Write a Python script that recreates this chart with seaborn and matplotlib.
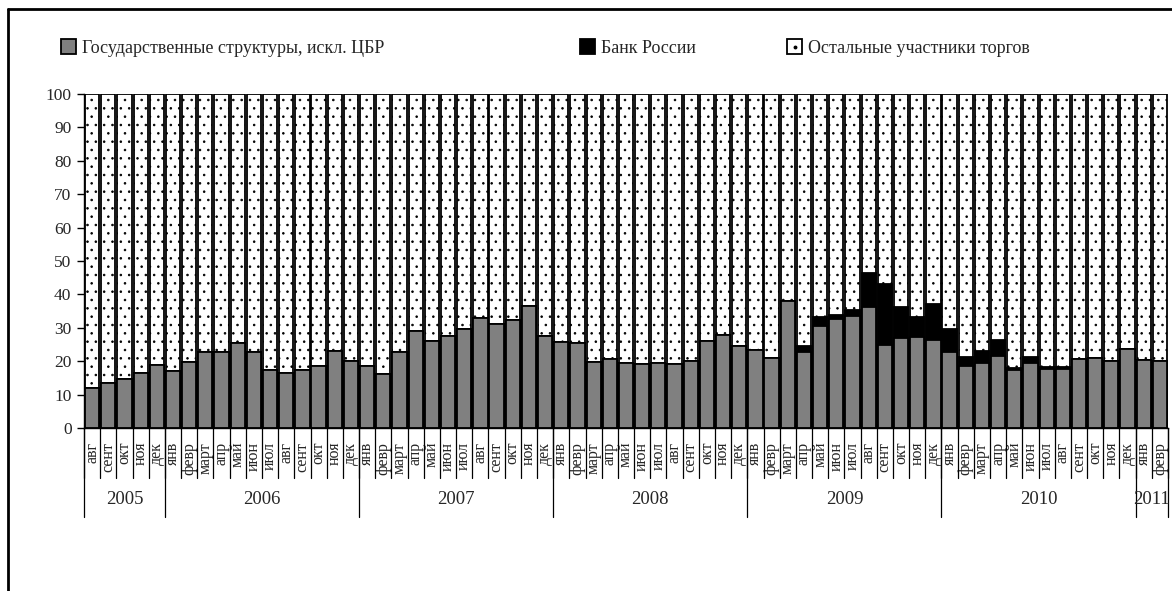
import numpy as np
import pandas as pd
import matplotlib
matplotlib.use("Agg")
import matplotlib.pyplot as plt
import matplotlib.patches as mpatches
from matplotlib.lines import Line2D
import matplotlib.transforms as mtransforms
import seaborn as sns

# ---------------- data ----------------
years = ["2005", "2006", "2007", "2008", "2009", "2010", "2011"]
year_counts = [5, 12, 12, 12, 12, 12, 2]

months = (["авг", "сент", "окт", "ноя", "дек"]
          + ["янв", "февр", "март", "апр", "май", "июн", "июл", "авг", "сент", "окт", "ноя", "дек"] * 5
          + ["янв", "февр"])

# Государственные структуры, искл. ЦБР (%)
gov = [12.0, 13.5, 14.6, 16.5, 18.8,
       17.0, 19.9, 22.7, 22.7, 25.4, 22.9, 17.4, 16.5, 17.4, 18.7, 23.2, 20.2,
       18.6, 16.2, 22.9, 29.0, 25.9, 27.6, 29.7, 32.9, 31.2, 32.2, 36.4, 27.4,
       25.7, 25.4, 19.7, 20.6, 19.4, 19.2, 19.6, 19.2, 20.2, 25.9, 27.9, 24.7,
       23.4, 20.9, 37.9, 22.7, 30.6, 32.6, 33.4, 36.1, 24.9, 26.9, 27.1, 26.4,
       22.8, 18.7, 19.5, 21.6, 17.5, 19.5, 17.7, 17.7, 20.6, 21.0, 20.2, 23.6,
       20.4, 20.1]

# Банк России (%)
cbr = [0, 0, 0, 0, 0,
       0, 0, 0, 0, 0, 0, 0, 0, 0, 0, 0, 0,
       0, 0, 0, 0, 0, 0, 0, 0, 0, 0, 0, 0,
       0, 0, 0, 0, 0, 0, 0, 0, 0, 0, 0, 0,
       0, 0, 0, 2.0, 2.7, 1.3, 2.0, 10.2, 18.1, 9.3, 6.0, 10.7,
       6.7, 2.6, 3.7, 4.6, 0.6, 1.9, 0.6, 0.6, 0, 0, 0, 0,
       0, 0]

series_names = ["Государственные структуры, искл. ЦБР", "Банк России", "Остальные участники торгов"]

# ---------------- table ----------------
n = len(months)
keys = [f"{i:02d}" for i in range(n)]
df = pd.DataFrame({"key": keys, "month": months, "gov": gov, "cbr": cbr})
df["other"] = 100 - df["gov"] - df["cbr"]
df["lvl1"] = df["gov"]
df["lvl2"] = df["gov"] + df["cbr"]
df["lvl3"] = df["gov"] + df["cbr"] + df["other"]

# ---------------- style ----------------
sns.set_theme(style="white")
plt.rcParams["font.family"] = ["Liberation Serif", "DejaVu Serif"]
plt.rcParams["hatch.linewidth"] = 0.6

W, H = 1172, 591
fig = plt.figure(figsize=(W / 100, H / 100), dpi=100)
ax = fig.add_axes([84 / W, (H - 428) / H, (1168 - 84) / W, (428 - 94) / H])

common = dict(x="key", order=keys, ax=ax, errorbar=None, saturation=1,
              width=0.88, edgecolor="black", linewidth=1.3)
sns.barplot(data=df, y="lvl3", color="white", hatch="..", **common)
sns.barplot(data=df, y="lvl2", color="black", **common)
sns.barplot(data=df, y="lvl1", color="#808080", **common)

ax.set_xlim(-0.5, n - 0.5)
ax.set_ylim(0, 100)
ax.set_yticks(np.arange(0, 101, 10))
ax.set_xlabel("")
ax.set_ylabel("")
for s in ["top", "right"]:
    ax.spines[s].set_visible(False)
for s in ["left", "bottom"]:
    ax.spines[s].set_color("black")
    ax.spines[s].set_linewidth(1.0)
ax.tick_params(axis="y", direction="out", length=5, width=1, color="black",
               labelsize=12.5, pad=4, left=True)
ax.set_xticks(range(n))
ax.set_xticklabels(months, rotation=90, fontsize=11.5, va="top", ha="center")
ax.tick_params(axis="x", length=0, pad=10, bottom=False)

# category separators below the axis
trans = mtransforms.blended_transform_factory(ax.transData, ax.transAxes)
for i in range(n + 1):
    ax.add_line(Line2D([i - 0.5, i - 0.5], [0, -0.15], transform=trans,
                       color="black", lw=0.9, clip_on=False))
start = 0
bounds = [0]
for y, c in zip(years, year_counts):
    ax.text(start + c / 2 - 0.5, -0.215, y, transform=trans, ha="center",
            va="center", fontsize=13.5)
    start += c
    bounds.append(start)
for b in bounds:
    ax.add_line(Line2D([b - 0.5, b - 0.5], [0, -0.265], transform=trans,
                       color="black", lw=0.9, clip_on=False))

# legend (three separate entries like the original)
handles = [
    mpatches.Patch(facecolor="#808080", edgecolor="black", linewidth=1.3),
    mpatches.Patch(facecolor="black", edgecolor="black", linewidth=1.3),
    mpatches.Patch(facecolor="white", edgecolor="black", linewidth=1.3),
]
xpos = [61, 580, 787]
for h, lab, xp in zip(handles, series_names, xpos):
    lg = fig.legend([h], [lab], loc="center left",
                    bbox_to_anchor=(xp / W, 1 - 48 / H), bbox_transform=fig.transFigure,
                    frameon=False, borderpad=0, borderaxespad=0, handlelength=0.85,
                    handleheight=0.85, handletextpad=0.3, fontsize=13)
# the single dot inside the "others" legend key
fig.add_artist(Line2D([795 / W], [1 - 47 / H], transform=fig.transFigure,
                      marker="o", markersize=1.8, color="black", linestyle="none",
                      zorder=20))

# outer frame (left and top edges of the original chart area)
fig.add_artist(Line2D([8 / W, 8 / W], [0, 1 - 9 / H], transform=fig.transFigure,
                      color="black", lw=2))
fig.add_artist(Line2D([8 / W, 1], [1 - 9 / H, 1 - 9 / H], transform=fig.transFigure,
                      color="black", lw=2))

fig.savefig("out.png", dpi=100, facecolor="white")
